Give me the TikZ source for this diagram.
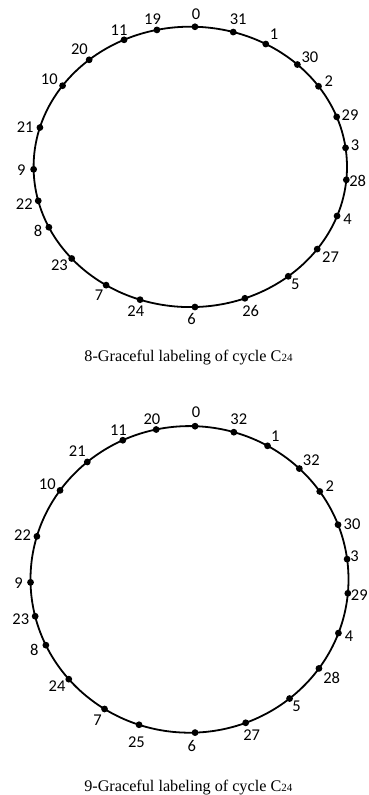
\documentclass[tikz,border=0pt]{standalone}
\usepackage{fontspec}
\setmainfont{Liberation Serif}
\newfontfamily\labfont{Carlito}
\usetikzlibrary{calc}
\begin{document}
\begin{tikzpicture}[x=1pt,y=1pt,
  dot/.style={circle,fill=black,inner sep=0pt,minimum size=6.8pt},
  lab/.style={font=\labfont\fontsize{16.5}{16.5}\selectfont,inner sep=0pt},
  captext/.style={font=\fontsize{16.2}{16.2}\selectfont,inner sep=0pt,anchor=base},
  cyc/.style={line width=1.8pt}]
\useasboundingbox (0,0) rectangle (369,795);
% ---- first cycle ----
\coordinate (c1) at (190.3,628.1);
\draw[cyc] (c1) ellipse [x radius=156.7pt, y radius=140.2pt];
\foreach \i/\t/\n/\dx/\dy in {
  1/88.3/0/1/12.7, 2/74.1/31/5/12.4, 3/61.2/1/8.3/10, 4/46.9/30/12.6/7,
  5/35.1/2/10.3/5, 6/20.9/29/13.4/1.7, 7/7.8/3/9.6/2.6, 8/-5.3/28/11.3/-1,
  9/-20.5/4/10.4/-3, 10/-35.9/27/13.3/-8.3, 11/-51.3/5/7/-7.6, 12/-69.6/26/5.7/-12.4,
  13/-88.3/6/-3.3/-12.3, 14/-108.7/24/-4.3/-11.7, 15/-122.5/7/-7/-10, 16/-139.2/23/-12.3/-6.3,
  17/-154.5/8/-10.7/-4, 18/-166/22/-14/-3.3, 19/-179/9/-12.3/-0.7, 20/163.7/21/-14.7/0,
  21/144.6/10/-13.3/6.3, 22/130.2/20/-9.7/10.4, 23/115/11/-5/9.7, 24/102.3/19/-4.4/10.3}{
  \node[dot] (a\i) at ($(c1)+(\t:156.7pt and 140.2pt)$) {};
  \node[lab] (la\i) at ($(a\i)+(\dx,\dy)$) {\n};
}
\node[captext] (cap1) at (188.5,433.3) {8-Graceful labeling of cycle C{\fontsize{11}{11}\selectfont 24}};
% ---- second cycle ----
\coordinate (c2) at (189.5,215.6);
\draw[cyc] (c2) ellipse [x radius=159pt, y radius=153.3pt];
\foreach \i/\t/\n/\dx/\dy in {
  1/88/0/1/13.7, 2/73.8/32/5/13.4, 3/60.6/1/7.7/10, 4/46.3/32/12/8.4,
  5/35/2/10/5, 6/20.9/30/14/1, 7/7.6/3/7.4/3.3, 8/-5.2/29/11.5/-1.7,
  9/-20.5/4/10.7/-3.4, 10/-35.5/28/12.7/-9.4, 11/-51/5/7/-7.4, 12/-69.3/27/6/-12.7,
  13/-88/6/-3.3/-13, 14/-108.5/25/-2.6/-17.7, 15/-122.3/7/-7/-11, 16/-139.4/24/-11.7/-6.7,
  17/-154.6/8/-11.6/-5, 18/-166.1/23/-14.3/-3.3, 19/-178.9/9/-12/-0.4, 20/163.7/22/-14.4/1.7,
  21/144.5/10/-12.7/6, 22/130/21/-10/11, 23/114.8/11/-4.4/10.3, 24/102.1/20/-4.3/10.7}{
  \node[dot] (b\i) at ($(c2)+(\t:159pt and 153.3pt)$) {};
  \node[lab] (lb\i) at ($(b\i)+(\dx,\dy)$) {\n};
}
\node[captext] (cap2) at (188.3,4) {9-Graceful labeling of cycle C{\fontsize{11}{11}\selectfont 24}};
\end{tikzpicture}
\end{document}
